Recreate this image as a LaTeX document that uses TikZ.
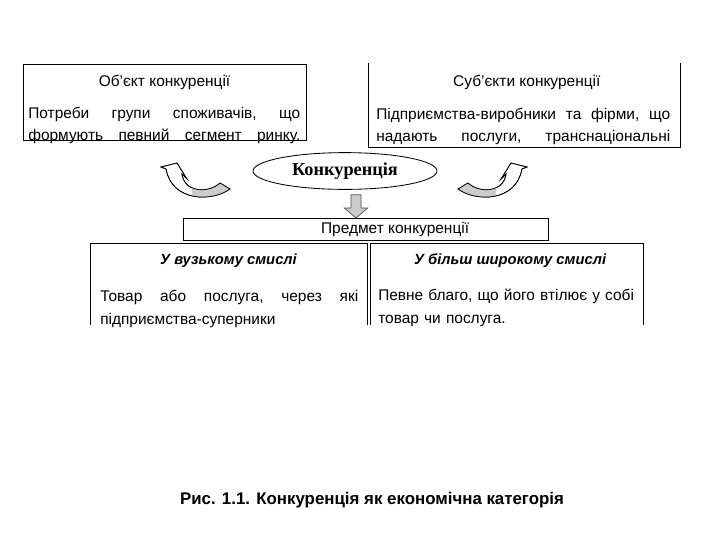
\documentclass[tikz,border=0pt]{standalone}
\usepackage{fontspec}
\setmainfont{Liberation Sans}
\newfontfamily\timesfont{Liberation Serif}
\usetikzlibrary{positioning,calc,shapes.geometric}

\newcommand{\spreadline}[2]{\makebox[#1][l]{#2}}

\tikzset{
  pics/bentarrow/.style={code={
    \begin{scope}[x=0.025cm,y=-0.025cm]
      \filldraw[fill=white, line width=0.5pt]
        (30,7) .. controls (12,20) and (-28,20) .. (-34,-13)
        -- (-39,-15) -- (-23,-19) -- (-13,-3) -- (-18,-8)
        .. controls (-16,10) and (8,12) .. (20,1) -- cycle;
      \begin{scope}
        \clip (-8,-30) rectangle (40,30);
        \fill[gray!40]
          (30,7) .. controls (12,20) and (-28,20) .. (-34,-13)
          -- (-18,-8) .. controls (-16,10) and (8,12) .. (20,1) -- cycle;
      \end{scope}
      \draw[line width=0.5pt]
        (30,7) .. controls (12,20) and (-28,20) .. (-34,-13)
        -- (-39,-15) -- (-23,-19) -- (-13,-3) -- (-18,-8)
        .. controls (-16,10) and (8,12) .. (20,1) -- cycle;
    \end{scope}
  }}
}

\begin{document}
\begin{tikzpicture}[
  box/.style={inner sep=0pt, outer sep=0pt},
  edge/.style={line width=0.6pt},
  head/.style={inner sep=0pt, font=\fontsize{11}{13}\selectfont},
  subhead/.style={inner sep=0pt, font=\fontsize{10.5}{13}\selectfont\bfseries\itshape},
  body/.style={inner sep=0pt, anchor=north west, font=\fontsize{11}{14}\selectfont},
  blockarrow/.style={fill=gray!40, draw=gray!60!black, line width=0.5pt}
]
\useasboundingbox (0,0) rectangle (18,-13.5);

% boxes
\node[box, minimum width=7.075cm, minimum height=1.9cm] (obj) at (4.1125,-2.55) {};
\node[box, minimum width=7.8cm, minimum height=2.1cm] (subj) at (13.1,-2.625) {};
\node[ellipse, draw, edge, minimum width=4.6cm, minimum height=0.8cm,
      font=\timesfont\bfseries\fontsize{13}{15}\selectfont] (conc) at (8.625,-4.275) {Конкуренція};
\node[box, draw, edge, minimum width=9.125cm, minimum height=0.55cm] (item) at (9.1375,-5.725) {};
\node[box, minimum width=6.925cm, minimum height=2.05cm] (narrow) at (5.7125,-7.1) {};
\node[box, minimum width=6.825cm, minimum height=2.05cm] (broad) at (12.6625,-7.1) {};

\draw[edge] (obj.north west) rectangle (obj.south east);
\draw[edge] (subj.north west) -- (subj.south west) -- (subj.south east) -- (subj.north east);
\draw[edge] (narrow.south west) -- (narrow.north west) -- (narrow.north east) -- (narrow.south east);
\draw[edge] (broad.south west) -- (broad.north west) -- (broad.north east) -- (broad.south east);

% titles
\node[head, below=0.28cm of obj.north] (objtitle) {Об'єкт конкуренції};
\node[head, below=0.3cm of subj.north, xshift=0.07cm] (subjtitle) {Суб'єкти конкуренції};
\node[head, xshift=0.74cm] (itemtitle) at (item.center) {Предмет конкуренції};
\node[subhead, below=0.27cm of narrow.north] (narrowtitle) {У вузькому смислі};
\node[subhead, below=0.27cm of broad.north, xshift=0.09cm] (broadtitle) {У більш широкому смислі};

% texts
\node[body, text width=6.8cm] (objtext) at (0.7,-2.67)
  {\spreadline{6.8cm}{Потреби\hfill групи\hfill споживачів,\hfill що}\\[2pt]
   \spreadline{6.8cm}{формують\hfill певний\hfill сегмент\hfill ринку.}};
\node[body, text width=7.35cm] (subjtext) at (9.4,-2.69)
  {\spreadline{7.35cm}{Підприємства-виробники\hfill та\hfill фірми,\hfill що}\\[2pt]
   \spreadline{7.35cm}{надають\hfill послуги,\hfill транснаціональні}};
\node[body, text width=6.45cm] (narrowtext) at (2.5,-7.25)
  {\spreadline{6.45cm}{Товар\hfill або\hfill послуга,\hfill через\hfill які}\\[2pt]
   підприємства-суперники};
\node[body, text width=6.55cm] (broadtext) at (9.45,-7.22)
  {Певне благо, що його втілює у собі\\[2pt]
   товар чи послуга.};

% arrows
\pic at (5,-4.55) {bentarrow};
\pic[xscale=-1] at (12.2,-4.55) {bentarrow};
\coordinate (ax) at (8.9,0);
\filldraw[blockarrow] (item.north -| ax) -- ++(0.29,0.25) -- ++(-0.165,0) -- ++(0,0.33)
  -- ++(-0.25,0) -- ++(0,-0.33) -- ++(-0.165,0) -- cycle;

\node[font=\fontsize{12}{14}\selectfont\bfseries] (caption) at (9.3,-12.5)
  {Рис. 1.1. Конкуренція як економічна категорія};
\end{tikzpicture}
\end{document}
